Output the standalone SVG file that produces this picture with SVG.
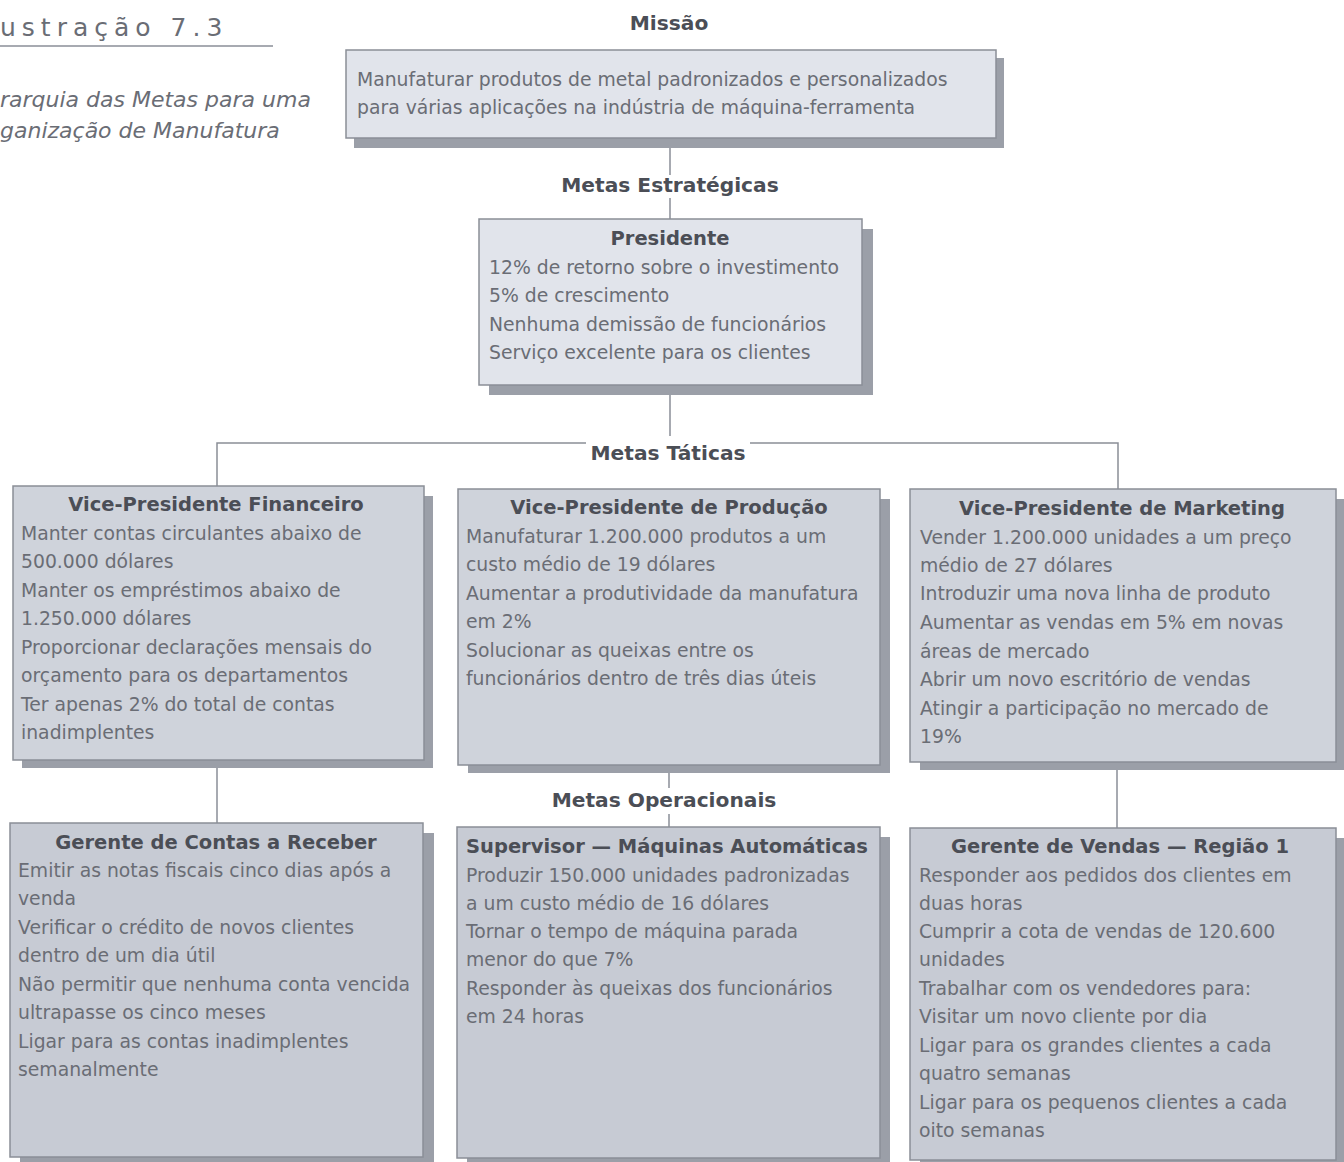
<svg xmlns="http://www.w3.org/2000/svg" width="1344" height="1162" viewBox="0 0 1344 1162">
<style>
.bg{fill:#ffffff}
.shadow{fill:#9b9fa8}
.box1{fill:#e1e4eb;stroke:#8a8e97;stroke-width:1.5}
.box2{fill:#cfd3db;stroke:#8a8e97;stroke-width:1.5}
.box3{fill:#c7cbd4;stroke:#8a8e97;stroke-width:1.5}
.t{font-family:"DejaVu Sans","Liberation Sans",Arial,sans-serif;font-size:18.8px;fill:#6a6d75}
.h{font-family:"DejaVu Sans","Liberation Sans",Arial,sans-serif;font-size:19.5px;font-weight:bold;fill:#4b4e56;text-anchor:middle}
.lbl{font-family:"DejaVu Sans","Liberation Sans",Arial,sans-serif;font-size:20.2px;font-weight:bold;fill:#4b4e56;text-anchor:middle}
.ln{stroke:#8a8e97;stroke-width:1.5;fill:none}
.cap{font-family:"DejaVu Sans","Liberation Sans",Arial,sans-serif;font-size:25px;fill:#6a6d75;letter-spacing:6px}
.capi{font-family:"DejaVu Sans","Liberation Sans",Arial,sans-serif;font-size:22px;font-style:italic;fill:#6a6d75}
</style>
<rect class="bg" x="0" y="0" width="1344" height="1162"/>
<g id="caption">
<text class="cap" x="0" y="36">ustração 7.3</text>
<line class="ln" x1="0" y1="46" x2="273" y2="46"/>
<text class="capi" x="0" y="107">rarquia das Metas para uma</text>
<text class="capi" x="0" y="138">ganização de Manufatura</text>
</g>
<g id="connectors">
<line class="ln" x1="670" y1="148" x2="670" y2="219"/>
<line class="ln" x1="670" y1="395" x2="670" y2="443"/>
<polyline class="ln" points="217,487 217,443 586,443"/>
<polyline class="ln" points="750,443 1118,443 1118,490"/>
<line class="ln" x1="217" y1="768" x2="217" y2="823"/>
<line class="ln" x1="669" y1="773" x2="669" y2="827"/>
<line class="ln" x1="1117" y1="770" x2="1117" y2="828"/>
</g>
<g id="labels">
<text class="lbl" x="669" y="30">Missão</text>
<rect x="560" y="175" width="220" height="23" fill="#ffffff"/>
<text class="lbl" x="670" y="192">Metas Estratégicas</text>
<rect x="586" y="436" width="164" height="30" fill="#ffffff"/>
<text class="lbl" x="668" y="460">Metas Táticas</text>
<rect x="540" y="788" width="250" height="26" fill="#ffffff"/>
<text class="lbl" x="664" y="807">Metas Operacionais</text>
</g>
<g id="missao">
<rect class="shadow" x="354" y="58" width="650" height="90"/>
<rect class="box1" x="346" y="50" width="650" height="88"/>
<text class="t" x="357" y="86">Manufaturar produtos de metal padronizados e personalizados</text>
<text class="t" x="357" y="114">para várias aplicações na indústria de máquina-ferramenta</text>
</g>
<g id="presidente">
<rect class="shadow" x="489" y="229" width="384" height="166"/>
<rect class="box1" x="479" y="219" width="383" height="166"/>
<text class="h" x="670" y="245">Presidente</text>
<text class="t" x="489" y="274">12% de retorno sobre o investimento</text>
<text class="t" x="489" y="302">5% de crescimento</text>
<text class="t" x="489" y="331">Nenhuma demissão de funcionários</text>
<text class="t" x="489" y="359">Serviço excelente para os clientes</text>
</g>
<g id="vp-financeiro">
<rect class="shadow" x="22" y="496" width="411" height="272"/>
<rect class="box2" x="13" y="486" width="411" height="274"/>
<text class="h" x="216" y="511">Vice-Presidente Financeiro</text>
<text class="t" x="21" y="540">Manter contas circulantes abaixo de</text>
<text class="t" x="21" y="568">500.000 dólares</text>
<text class="t" x="21" y="597">Manter os empréstimos abaixo de</text>
<text class="t" x="21" y="625">1.250.000 dólares</text>
<text class="t" x="21" y="654">Proporcionar declarações mensais do</text>
<text class="t" x="21" y="682">orçamento para os departamentos</text>
<text class="t" x="21" y="711">Ter apenas 2% do total de contas</text>
<text class="t" x="21" y="739">inadimplentes</text>
</g>
<g id="vp-producao">
<rect class="shadow" x="468" y="499" width="422" height="274"/>
<rect class="box2" x="458" y="489" width="422" height="276"/>
<text class="h" x="669" y="514">Vice-Presidente de Produção</text>
<text class="t" x="466" y="543">Manufaturar 1.200.000 produtos a um</text>
<text class="t" x="466" y="571">custo médio de 19 dólares</text>
<text class="t" x="466" y="600">Aumentar a produtividade da manufatura</text>
<text class="t" x="466" y="628">em 2%</text>
<text class="t" x="466" y="657">Solucionar as queixas entre os</text>
<text class="t" x="466" y="685">funcionários dentro de três dias úteis</text>
</g>
<g id="vp-marketing">
<rect class="shadow" x="920" y="499" width="424" height="271"/>
<rect class="box2" x="910" y="489" width="426" height="273"/>
<text class="h" x="1122" y="515">Vice-Presidente de Marketing</text>
<text class="t" x="920" y="544">Vender 1.200.000 unidades a um preço</text>
<text class="t" x="920" y="572">médio de 27 dólares</text>
<text class="t" x="920" y="600">Introduzir uma nova linha de produto</text>
<text class="t" x="920" y="629">Aumentar as vendas em 5% em novas</text>
<text class="t" x="920" y="658">áreas de mercado</text>
<text class="t" x="920" y="686">Abrir um novo escritório de vendas</text>
<text class="t" x="920" y="715">Atingir a participação no mercado de</text>
<text class="t" x="920" y="743">19%</text>
</g>
<g id="gerente-contas">
<rect class="shadow" x="20" y="833" width="414" height="332"/>
<rect class="box3" x="10" y="823" width="413" height="334"/>
<text class="h" x="216" y="849">Gerente de Contas a Receber</text>
<text class="t" x="18" y="877">Emitir as notas fiscais cinco dias após a</text>
<text class="t" x="18" y="905">venda</text>
<text class="t" x="18" y="934">Verificar o crédito de novos clientes</text>
<text class="t" x="18" y="962">dentro de um dia útil</text>
<text class="t" x="18" y="991">Não permitir que nenhuma conta vencida</text>
<text class="t" x="18" y="1019">ultrapasse os cinco meses</text>
<text class="t" x="18" y="1048">Ligar para as contas inadimplentes</text>
<text class="t" x="18" y="1076">semanalmente</text>
</g>
<g id="supervisor">
<rect class="shadow" x="467" y="837" width="423" height="330"/>
<rect class="box3" x="457" y="827" width="423" height="331"/>
<text class="h" x="466" y="853" style="text-anchor:start">Supervisor — Máquinas Automáticas</text>
<text class="t" x="466" y="882">Produzir 150.000 unidades padronizadas</text>
<text class="t" x="466" y="910">a um custo médio de 16 dólares</text>
<text class="t" x="466" y="938">Tornar o tempo de máquina parada</text>
<text class="t" x="466" y="966">menor do que 7%</text>
<text class="t" x="466" y="995">Responder às queixas dos funcionários</text>
<text class="t" x="466" y="1023">em 24 horas</text>
</g>
<g id="gerente-vendas">
<rect class="shadow" x="920" y="838" width="424" height="330"/>
<rect class="box3" x="910" y="828" width="426" height="332"/>
<text class="h" x="1120" y="853">Gerente de Vendas — Região 1</text>
<text class="t" x="919" y="882">Responder aos pedidos dos clientes em</text>
<text class="t" x="919" y="910">duas horas</text>
<text class="t" x="919" y="938">Cumprir a cota de vendas de 120.600</text>
<text class="t" x="919" y="966">unidades</text>
<text class="t" x="919" y="995">Trabalhar com os vendedores para:</text>
<text class="t" x="919" y="1023">Visitar um novo cliente por dia</text>
<text class="t" x="919" y="1052">Ligar para os grandes clientes a cada</text>
<text class="t" x="919" y="1080">quatro semanas</text>
<text class="t" x="919" y="1109">Ligar para os pequenos clientes a cada</text>
<text class="t" x="919" y="1137">oito semanas</text>
</g>
</svg>
